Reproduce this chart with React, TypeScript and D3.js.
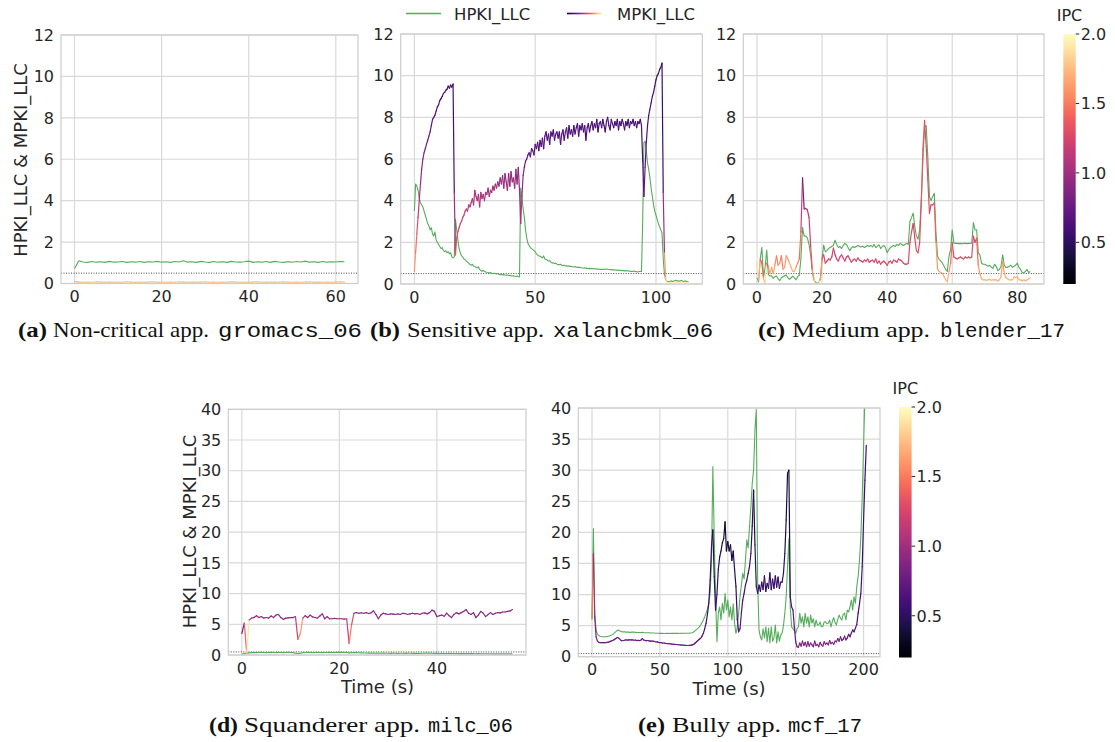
import React from 'react';
import * as d3 from 'd3';

// ---------------- DATA ----------------
const TOP_YTICKS = [0, 2, 4, 6, 8, 10, 12];
const BOTTOM_YTICKS = [0, 5, 10, 15, 20, 25, 30, 35, 40];
const A_XTICKS = [0, 20, 40, 60];
const B_XTICKS = [0, 50, 100];
const C_XTICKS = [0, 20, 40, 60, 80];
const D_XTICKS = [0, 20, 40];
const E_XTICKS = [0, 50, 100, 150, 200];
const IPC_TICKS = [0.5, 1.0, 1.5, 2.0];
const IPC_RANGE = [0.2, 2.0];

const SERIES_NAMES = ['HPKI_LLC', 'MPKI_LLC'];
const Y_LABEL = 'HPKI_LLC & MPKI_LLC';
const X_LABEL = 'Time (s)';

// (a) gromacs_06, 1 s sampling
const A_HPKI = [
  0.72, 1.1, 1.04, 1.02, 1.06, 1.03, 1.05, 1.02, 1.07, 1.03,
  1.04, 1.06, 1.02, 1.05, 1.03, 1.06, 1.02, 1.05, 1.04, 1.07,
  1.03, 1.05, 1.02, 1.06, 1.04, 1.1, 1.03, 1.05, 1.02, 1.07,
  1.04, 1.02, 1.06, 1.03, 1.05, 1.02, 1.07, 1.04, 1.03, 1.05,
  1.08, 1.02, 1.05, 1.03, 1.06, 1.02, 1.07, 1.04, 1.02, 1.05,
  1.03, 1.06, 1.04, 1.08, 1.03, 1.05, 1.02, 1.06, 1.03, 1.05,
  1.04, 1.06, 1.05,
];
const A_MPKI = [
  0.09, 0.07, 0.06, 0.07, 0.06, 0.08, 0.07, 0.06, 0.07, 0.06,
  0.07, 0.06, 0.08, 0.07, 0.06, 0.07, 0.06, 0.07, 0.08, 0.06,
  0.07, 0.06, 0.07, 0.06, 0.08, 0.07, 0.06, 0.07, 0.06, 0.07,
  0.08, 0.06, 0.07, 0.06, 0.07, 0.06, 0.08, 0.07, 0.06, 0.07,
  0.06, 0.07, 0.08, 0.06, 0.07, 0.06, 0.07, 0.06, 0.08, 0.07,
  0.06, 0.07, 0.06, 0.07, 0.08, 0.06, 0.07, 0.06, 0.07, 0.06,
  0.07, 0.08, 0.07,
];
const A_IPC = [
  1.7, 1.74, 1.76, 1.75, 1.77, 1.74, 1.76, 1.75, 1.73, 1.76,
  1.75, 1.74, 1.76, 1.75, 1.73, 1.76, 1.74, 1.75, 1.77, 1.74,
  1.76, 1.75, 1.74, 1.76, 1.73, 1.75, 1.76, 1.74, 1.75, 1.77,
  1.74, 1.76, 1.75, 1.73, 1.76, 1.75, 1.74, 1.76, 1.75, 1.74,
  1.76, 1.75, 1.73, 1.76, 1.74, 1.75, 1.77, 1.74, 1.76, 1.75,
  1.74, 1.76, 1.75, 1.73, 1.76, 1.75, 1.74, 1.76, 1.75, 1.74,
  1.76, 1.75, 1.75,
];

// (b) xalancbmk_06, 0.5 s sampling
const B_HPKI = [
  3.5, 4.8, 4.7, 4.5, 4.1, 3.9, 3.8, 3.7, 3.5, 3.3,
  3.1, 2.9, 2.8, 2.6, 2.7, 2.4, 2.3, 2.5, 2.1, 2.0,
  1.9, 1.8, 1.7, 1.75, 1.6, 1.55, 1.6, 1.5, 1.55, 1.45,
  1.5, 1.3, 1.25, 1.3, 3.1, 2.6, 2.1, 1.7, 1.5, 1.35,
  1.3, 1.2, 1.17, 1.1, 1.05, 1.0, 0.93, 0.9, 0.95, 0.85,
  0.85, 0.8, 0.78, 0.82, 0.7, 0.65, 0.61, 0.65, 0.6, 0.58,
  0.56, 0.55, 0.53, 0.55, 0.52, 0.5, 0.52, 0.5, 0.48, 0.5,
  0.47, 0.45, 0.46, 0.44, 0.45, 0.43, 0.42, 0.44, 0.4, 0.42,
  0.4, 0.38, 0.4, 0.37, 0.36, 0.38, 0.35, 0.34, 4.6, 4.2,
  3.6, 3.2, 2.6, 2.2, 1.95, 1.85, 1.75, 1.7, 1.65, 1.6,
  1.55, 1.45, 1.4, 1.35, 1.33, 1.3, 1.25, 1.35, 1.2, 1.17,
  1.15, 1.1, 1.12, 1.05, 1.0, 1.02, 0.98, 1.0, 0.95, 0.93,
  0.93, 0.95, 0.9, 0.88, 0.9, 0.86, 0.88, 0.85, 0.87, 0.84,
  0.85, 0.83, 0.82, 0.84, 0.8, 0.82, 0.79, 0.8, 0.78, 0.77,
  0.77, 0.78, 0.75, 0.76, 0.74, 0.75, 0.73, 0.75, 0.72, 0.74,
  0.72, 0.73, 0.7, 0.72, 0.7, 0.71, 0.69, 0.72, 0.7, 0.71,
  0.72, 0.7, 0.68, 0.7, 0.67, 0.69, 0.66, 0.68, 0.65, 0.67,
  0.65, 0.66, 0.64, 0.65, 0.63, 0.65, 0.62, 0.64, 0.62, 0.6,
  0.61, 0.6, 0.62, 0.59, 0.6, 0.58, 0.6, 0.6, 0.6, 3.0,
  6.8, 6.85, 6.4, 5.8, 5.5, 5.1, 4.6, 4.2, 3.8, 3.5,
  3.3, 3.1, 2.9, 2.75, 2.6, 2.45, 1.2, 0.5, 0.2, 0.12,
  0.12, 0.1, 0.13, 0.15, 0.12, 0.14, 0.18, 0.15, 0.16, 0.13,
  0.15, 0.17, 0.14, 0.12, 0.15, 0.13, 0.1, 0.1,
];
const B_MPKI = [
  0.6, 1.5, 2.4, 3.2, 4.0, 4.8, 5.5, 6.0, 6.3, 6.5,
  6.7, 6.9, 7.1, 7.3, 7.6, 7.9, 8.0, 8.1, 8.3, 8.5,
  8.6, 8.8, 8.9, 9.0, 9.15, 9.2, 9.3, 9.35, 9.5, 9.4,
  9.55, 9.45, 9.6, 4.4, 1.4, 2.2, 2.5, 2.7, 2.9, 3.0,
  3.2, 3.3, 3.5, 3.6, 3.5, 3.8, 3.7, 3.9, 4.1, 3.8,
  4.5, 4.2, 4.0, 4.3, 3.7, 4.4, 4.1, 4.3, 4.0, 4.4,
  4.3, 4.6, 4.2, 4.5, 4.4, 4.7, 4.5, 4.8, 4.6, 4.9,
  4.7, 5.1, 4.8, 5.2, 4.6, 5.3, 4.9, 4.5, 5.3, 4.7,
  5.4, 4.9, 5.1, 4.6, 5.5, 4.8, 5.6, 4.5, 2.9, 4.2,
  5.2, 5.6, 5.9, 6.0, 6.2, 6.3, 6.1, 6.5, 6.4, 6.2,
  6.7, 6.5, 6.8, 6.4, 6.9, 6.6, 7.0, 6.5, 7.1, 7.3,
  6.9, 7.2, 6.7, 7.3, 7.1, 7.4, 6.9, 7.2, 7.3, 7.0,
  7.3, 6.7, 7.2, 7.4, 6.9, 7.3, 7.5, 7.0, 7.6, 7.2,
  7.4, 7.1, 7.6, 7.2, 7.5, 7.7, 7.1, 7.6, 7.4, 7.7,
  7.3, 7.6, 6.9, 7.5, 7.7, 7.3, 7.6, 7.8, 7.4, 7.7,
  7.5, 7.9, 7.3, 7.7, 7.8, 7.5, 7.9, 7.6, 7.3, 7.8,
  8.0, 7.6, 7.4, 7.9, 7.7, 7.5, 7.8, 7.6, 7.9, 7.4,
  7.8, 7.6, 7.9, 7.7, 7.4, 7.8, 7.6, 7.9, 7.5, 7.8,
  7.7, 7.9, 7.6, 7.8, 7.5, 7.8, 7.7, 7.9, 7.6, 5.9,
  4.2, 5.6, 6.8, 7.6, 8.1, 8.4, 8.7, 9.0, 9.2, 9.5,
  9.8, 10.0, 10.1, 10.3, 10.4, 10.6, 4.4, 1.5, 0.3, 0.05,
  0.05, 0.06, 0.05, 0.04, 0.05, 0.06, 0.05, 0.05, 0.04, 0.05,
  0.05, 0.06, 0.05, 0.05, 0.04, 0.05, 0.05, 0.05,
];
const B_IPC = [
  1.6, 1.45, 1.3, 1.15, 1.05, 0.95, 0.9, 0.85, 0.8, 0.8,
  0.78, 0.76, 0.74, 0.72, 0.7, 0.68, 0.67, 0.66, 0.65, 0.64,
  0.63, 0.62, 0.62, 0.61, 0.6, 0.6, 0.6, 0.6, 0.6, 0.6,
  0.6, 0.6, 0.6, 1.0, 1.35, 1.3, 1.25, 1.22, 1.2, 1.18,
  1.2, 1.18, 1.17, 1.15, 1.15, 1.1, 1.12, 1.1, 1.08, 1.1,
  1.05, 1.07, 1.1, 1.06, 1.12, 1.05, 1.07, 1.05, 1.08, 1.04,
  1.05, 1.02, 1.05, 1.03, 1.03, 1.0, 1.02, 1.0, 1.0, 0.98,
  1.0, 0.97, 0.99, 0.96, 1.0, 0.95, 0.98, 1.0, 0.95, 0.98,
  0.94, 0.97, 0.96, 0.98, 0.93, 0.97, 0.92, 0.98, 1.1, 0.95,
  0.85, 0.78, 0.75, 0.73, 0.72, 0.71, 0.72, 0.7, 0.7, 0.71,
  0.68, 0.7, 0.67, 0.69, 0.66, 0.68, 0.66, 0.69, 0.66, 0.65,
  0.67, 0.66, 0.68, 0.65, 0.66, 0.64, 0.67, 0.66, 0.65, 0.67,
  0.65, 0.68, 0.66, 0.64, 0.67, 0.65, 0.64, 0.66, 0.63, 0.65,
  0.64, 0.66, 0.63, 0.65, 0.64, 0.62, 0.65, 0.63, 0.64, 0.62,
  0.64, 0.62, 0.66, 0.63, 0.62, 0.64, 0.63, 0.61, 0.63, 0.62,
  0.63, 0.61, 0.64, 0.62, 0.61, 0.63, 0.61, 0.62, 0.64, 0.62,
  0.6, 0.62, 0.63, 0.61, 0.62, 0.63, 0.61, 0.62, 0.6, 0.63,
  0.61, 0.62, 0.6, 0.62, 0.63, 0.61, 0.62, 0.6, 0.62, 0.61,
  0.62, 0.6, 0.62, 0.61, 0.62, 0.61, 0.62, 0.6, 0.62, 0.7,
  0.75, 0.7, 0.65, 0.62, 0.6, 0.6, 0.58, 0.58, 0.57, 0.57,
  0.56, 0.56, 0.55, 0.55, 0.55, 0.55, 1.0, 1.6, 1.85, 1.95,
  1.95, 1.95, 1.95, 1.95, 1.95, 1.95, 1.95, 1.95, 1.95, 1.95,
  1.95, 1.95, 1.95, 1.95, 1.95, 1.95, 1.95, 1.95,
];

// (c) blender_17, 0.5 s sampling
const C_HPKI = [
  0.3, 0.1, 1.2, 1.76, 0.3, 0.8, 1.63, 0.45, 0.38, 0.4,
  0.27, 0.35, 0.38, 0.25, 0.16, 0.3, 0.35, 0.4, 0.43, 0.3,
  0.22, 0.3, 0.38, 0.3, 0.2, 0.35, 0.42, 1.2, 2.72, 2.3,
  2.3, 2.2, 1.9, 1.4, 0.6, 0.2, 0.08, 0.03, 0.05, 0.3,
  1.2, 1.87, 1.55, 1.6, 1.7, 1.75, 1.8, 1.85, 2.1, 1.9,
  1.75, 1.8, 1.7, 1.85, 1.95, 1.9, 1.75, 1.6, 1.72, 1.8,
  1.75, 1.8, 1.85, 1.8, 1.78, 1.82, 1.75, 1.8, 1.85, 1.8,
  1.85, 1.78, 1.9, 1.75, 1.82, 1.88, 1.7, 1.8, 1.85, 1.75,
  1.5, 1.65, 1.75, 1.8, 1.85, 1.8, 1.9, 1.85, 1.95, 1.9,
  1.85, 1.9, 1.95, 1.9, 3.0, 3.2, 3.4, 2.75, 2.3, 2.15,
  2.6, 4.0, 6.0, 7.55, 7.6, 6.1, 4.2, 4.0, 4.2, 4.36,
  2.45, 1.33, 1.17, 1.1, 1.0, 0.85, 0.69, 0.6, 1.33, 1.65,
  2.6, 1.96, 1.95, 1.95, 1.94, 1.95, 1.93, 1.95, 1.95, 1.94,
  1.95, 1.95, 1.96, 2.95, 2.6, 2.6, 1.5, 1.4, 1.0, 0.95,
  0.95, 0.9, 0.85, 0.9, 0.8, 0.75, 0.95, 0.85, 0.65, 0.7,
  0.85, 1.4, 0.9, 0.8, 0.8, 0.85, 0.9, 0.8, 0.85, 0.9,
  1.0, 0.8, 0.7, 0.55, 0.53, 0.6, 0.7, 0.55, 0.6,
];
const C_MPKI = [
  1.0, 0.2, 1.2, 1.0, 0.3, 0.0, 1.0, 0.8, 0.5, 0.8,
  0.5, 0.9, 1.35, 0.9, 1.0, 1.35, 0.7, 0.8, 1.35, 1.2,
  1.0, 0.8, 0.6, 0.6, 0.8, 1.0, 1.2, 2.5, 5.1, 3.6,
  3.63, 3.55, 3.2, 1.8, 0.7, 0.2, 0.0, 0.0, 0.0, 0.2,
  1.2, 1.4, 1.0, 1.1, 1.2, 1.15, 1.3, 1.72, 1.4, 1.2,
  1.1, 1.3, 1.4, 1.25, 1.1, 1.3, 1.35, 1.2, 1.05, 1.15,
  1.2, 1.1, 1.25, 1.15, 1.1, 1.05, 1.15, 1.1, 1.2, 1.05,
  1.1, 1.15, 1.05, 1.2, 1.0, 1.1, 0.95, 1.05, 1.1, 1.0,
  0.9, 1.05, 1.1, 1.0, 1.15, 1.1, 1.05, 1.2, 1.15, 1.1,
  1.0, 0.95, 0.95, 1.0, 2.0, 2.5, 2.9, 2.2, 1.6, 1.5,
  2.0, 4.0, 6.5, 7.85, 6.6, 5.0, 3.4, 3.8, 3.8, 3.9,
  2.0, 0.7, 0.6, 0.55, 0.5, 0.35, 0.2, 0.1, 0.6, 1.0,
  2.0, 1.3, 1.25, 1.2, 1.25, 1.3, 1.25, 1.2, 1.3, 1.25,
  1.3, 1.25, 1.3, 2.3, 2.0, 2.2, 0.9, 0.5, 0.25, 0.2,
  0.2, 0.18, 0.2, 0.22, 0.18, 0.2, 0.2, 0.2, 0.15, 0.2,
  0.35, 1.1, 0.5, 0.3, 0.25, 0.2, 0.2, 0.2, 0.35, 0.3,
  0.35, 0.2, 0.2, 0.15, 0.2, 0.15, 0.2, 0.25, 0.3,
];
const C_IPC = [
  1.9, 1.7, 1.4, 1.4, 1.7, 1.9, 1.3, 1.6, 1.7, 1.6,
  1.65, 1.55, 1.5, 1.6, 1.55, 1.5, 1.7, 1.6, 1.6, 1.65,
  1.7, 1.7, 1.75, 1.7, 1.6, 1.55, 1.45, 1.2, 0.8, 1.05,
  1.05, 1.1, 1.2, 1.35, 1.6, 1.8, 1.9, 1.9, 1.9, 1.6,
  1.3, 1.25, 1.25, 1.25, 1.22, 1.25, 1.2, 1.2, 1.22, 1.25,
  1.25, 1.22, 1.2, 1.25, 1.25, 1.22, 1.2, 1.25, 1.25, 1.22,
  1.25, 1.25, 1.22, 1.25, 1.25, 1.27, 1.25, 1.25, 1.22, 1.25,
  1.25, 1.25, 1.27, 1.25, 1.28, 1.25, 1.28, 1.25, 1.25, 1.27,
  1.3, 1.27, 1.25, 1.27, 1.25, 1.25, 1.27, 1.25, 1.25, 1.27,
  1.25, 1.25, 1.25, 1.3, 1.3, 1.25, 1.25, 1.3, 1.3, 1.3,
  1.3, 1.35, 1.35, 1.3, 1.3, 1.3, 1.25, 1.25, 1.25, 1.4,
  1.6, 1.65, 1.65, 1.65, 1.7, 1.7, 1.75, 1.7, 1.6, 1.45,
  1.3, 1.3, 1.3, 1.3, 1.3, 1.3, 1.3, 1.3, 1.3, 1.3,
  1.3, 1.3, 1.3, 1.25, 1.3, 1.4, 1.6, 1.65, 1.7, 1.7,
  1.7, 1.72, 1.7, 1.7, 1.72, 1.7, 1.7, 1.72, 1.7, 1.7,
  1.65, 1.6, 1.68, 1.7, 1.72, 1.7, 1.72, 1.7, 1.7, 1.72,
  1.7, 1.72, 1.7, 1.72, 1.7, 1.72, 1.7, 1.7, 1.7,
];

// (d) milc_06, 0.5 s sampling
const D_HPKI = [
  0.1, 0.25, 0.3, 0.35, 0.38, 0.4, 0.38, 0.4, 0.42, 0.4,
  0.38, 0.4, 0.42, 0.4, 0.38, 0.4, 0.41, 0.39, 0.4, 0.42,
  0.4, 0.38, 0.3, 0.25, 0.3, 0.38, 0.4, 0.42, 0.4, 0.38,
  0.4, 0.42, 0.4, 0.38, 0.4, 0.41, 0.42, 0.4, 0.41, 0.43,
  0.42, 0.43, 0.4, 0.42, 0.35, 0.38, 0.4, 0.38, 0.36, 0.35,
  0.33, 0.32, 0.3, 0.31, 0.3, 0.28, 0.3, 0.29, 0.3, 0.28,
  0.28, 0.27, 0.3, 0.28, 0.27, 0.29, 0.28, 0.27, 0.3, 0.28,
  0.27, 0.28, 0.27, 0.26, 0.28, 0.3, 0.32, 0.3, 0.28, 0.27,
  0.26, 0.25, 0.27, 0.25, 0.24, 0.26, 0.25, 0.24, 0.25, 0.23,
  0.24, 0.22, 0.23, 0.22, 0.24, 0.22, 0.21, 0.22, 0.2, 0.21,
  0.2, 0.21, 0.2, 0.19, 0.2, 0.19, 0.2, 0.19, 0.18, 0.19,
  0.18, 0.18,
];
const D_MPKI = [
  3.5, 5.2, 0.3, 5.7, 6.0, 6.1, 6.4, 6.1, 6.25, 6.0,
  6.1, 6.0, 6.35, 6.1, 6.5, 6.6, 6.1, 5.8, 6.0, 6.05,
  6.1, 6.1, 6.25, 2.55, 3.5, 6.0, 6.4, 6.1, 6.5, 6.2,
  6.1, 6.0, 6.35, 6.7, 5.9, 6.25, 5.9, 5.9, 5.95, 5.9,
  5.9, 5.9, 5.85, 5.9, 1.9, 4.9, 6.8, 6.9, 6.8, 6.85,
  6.8, 6.9, 6.75, 6.85, 7.2, 6.6, 5.9, 6.5, 6.8, 6.7,
  6.6, 6.7, 6.65, 6.6, 6.7, 6.6, 6.8, 6.75, 6.6, 6.7,
  6.8, 6.7, 6.75, 6.6, 6.8, 6.85, 6.7, 6.9, 7.3, 7.1,
  6.25, 6.4, 6.5, 6.3, 6.8, 6.4, 6.1, 6.6, 6.9, 6.7,
  6.9, 7.1, 7.4, 6.8, 6.6, 6.9, 6.1, 6.5, 7.1, 6.8,
  6.25, 6.6, 6.9, 6.6, 6.8, 6.9, 6.85, 7.0, 7.0, 7.1,
  7.17, 7.4,
];
const D_IPC = [
  0.85, 1.4, 1.9, 1.0, 0.95, 0.93, 0.95, 0.94, 0.95, 0.93,
  0.95, 0.94, 0.93, 0.95, 0.94, 0.93, 0.95, 0.96, 0.95, 0.94,
  0.95, 0.95, 1.2, 1.5, 1.6, 1.05, 0.95, 0.94, 0.93, 0.95,
  0.95, 0.96, 0.94, 0.93, 0.96, 0.95, 0.96, 0.96, 0.95, 0.96,
  0.96, 0.96, 0.97, 1.2, 1.5, 1.3, 0.95, 0.92, 0.92, 0.92,
  0.92, 0.91, 0.92, 0.92, 0.9, 0.92, 0.95, 0.93, 0.92, 0.92,
  0.92, 0.92, 0.92, 0.93, 0.92, 0.92, 0.91, 0.92, 0.93, 0.92,
  0.92, 0.92, 0.92, 0.93, 0.92, 0.92, 0.92, 0.91, 0.9, 0.91,
  0.94, 0.93, 0.92, 0.93, 0.92, 0.93, 0.95, 0.93, 0.92, 0.92,
  0.92, 0.91, 0.9, 0.92, 0.93, 0.92, 0.95, 0.93, 0.91, 0.92,
  0.94, 0.93, 0.92, 0.93, 0.92, 0.92, 0.92, 0.91, 0.91, 0.91,
  0.9, 0.9,
];

// (e) mcf_17, 1 s sampling
const E_HPKI = [
  6.0, 20.6, 7.0, 4.3, 3.6, 3.4, 3.3, 3.25, 3.2, 3.2,
  3.2, 3.25, 3.3, 3.35, 3.45, 3.55, 3.7, 3.9, 4.1, 4.3,
  4.2, 4.1, 4.0, 4.0, 4.0, 3.95, 3.95, 3.95, 3.9, 3.95,
  3.97, 3.95, 3.9, 3.92, 3.9, 3.88, 3.9, 3.92, 3.88, 3.86,
  3.86, 3.85, 3.85, 3.83, 3.82, 3.8, 3.8, 3.78, 3.78, 3.77,
  3.75, 3.75, 3.75, 3.74, 3.74, 3.75, 3.75, 3.74, 3.75, 3.75,
  3.75, 3.75, 3.76, 3.75, 3.76, 3.76, 3.75, 3.76, 3.76, 3.76,
  3.76, 3.78, 3.8, 3.82, 3.86, 4.0, 4.2, 4.4, 4.56, 4.8,
  5.1, 5.5, 5.9, 6.4, 7.0, 7.7, 8.6, 10.2, 15.5, 30.6,
  19.3, 9.65, 2.4, 7.0, 8.0, 5.9, 8.6, 7.0, 10.2, 7.5,
  9.1, 6.4, 8.0, 5.9, 8.5, 5.4, 3.75, 4.8, 7.0, 9.65,
  11.5, 13.4, 12.5, 15.5, 18.8, 17.5, 21.0, 24.0, 27.9, 30.0,
  36.5, 39.8, 12.0, 4.3, 3.2, 2.7, 4.5, 3.0, 4.8, 2.4,
  4.6, 2.2, 4.8, 2.5, 3.0, 5.1, 2.2, 4.0, 2.5, 3.5,
  3.8, 5.0, 7.0, 9.65, 14.5, 19.0, 8.0, 4.8, 4.5, 4.2,
  3.75, 4.5, 4.8, 7.0, 5.4, 6.4, 4.8, 7.0, 5.4, 6.4,
  4.8, 6.7, 5.4, 6.1, 4.8, 5.9, 5.1, 5.1, 5.6, 4.8,
  4.9, 5.6, 5.6, 5.3, 5.4, 5.9, 4.8, 5.7, 6.3, 5.5,
  5.1, 6.0, 6.7, 6.2, 5.9, 6.8, 7.0, 5.9, 7.5, 7.2,
  8.0, 9.1, 7.5, 9.65, 8.6, 11.3, 12.9, 15.5, 19.3, 25.7,
  33.8, 42.0, 48.0,
];
const E_MPKI = [
  6.2, 16.6, 6.4, 3.2, 2.5, 2.3, 2.25, 2.25, 2.25, 2.25,
  2.25, 2.3, 2.35, 2.4, 2.5, 2.6, 2.7, 2.85, 3.0, 3.1,
  2.9, 2.7, 2.56, 2.6, 2.65, 2.7, 2.68, 2.7, 2.72, 2.7,
  2.7, 2.65, 2.68, 2.6, 2.62, 2.6, 2.65, 2.9, 2.7, 2.6,
  2.56, 2.6, 2.55, 2.5, 2.52, 2.5, 2.45, 2.4, 2.38, 2.3,
  2.25, 2.25, 2.2, 2.2, 2.15, 2.12, 2.1, 2.08, 2.05, 2.02,
  2.0, 1.98, 1.96, 1.95, 1.92, 1.9, 1.88, 1.86, 1.84, 1.82,
  1.8, 1.8, 1.82, 1.85, 1.9, 2.0, 2.2, 2.4, 2.6, 2.8,
  2.96, 3.3, 3.76, 4.5, 5.4, 6.8, 8.6, 12.3, 17.7, 20.4,
  12.9, 7.5, 10.0, 14.0, 16.0, 17.0, 18.3, 19.0, 21.7, 17.0,
  18.5, 17.0, 18.0, 15.5, 17.0, 14.0, 11.3, 6.0, 4.0, 4.5,
  7.0, 9.1, 10.2, 11.5, 12.3, 13.4, 14.5, 16.6, 21.0, 26.8,
  18.0, 11.3, 10.2, 11.5, 10.5, 12.0, 10.8, 13.0, 10.5, 11.8,
  11.0, 13.5, 10.8, 12.5, 11.0, 13.0, 11.2, 12.8, 11.0, 12.0,
  12.0, 13.4, 16.6, 22.0, 29.5, 30.0, 9.65, 8.0, 7.5, 4.8,
  2.4, 1.6, 1.5, 2.2, 1.7, 2.5, 1.8, 2.3, 1.6, 2.4,
  1.7, 2.2, 1.9, 1.6, 2.5, 1.8, 2.0, 1.6, 2.3, 1.9,
  1.7, 2.4, 2.0, 2.2, 1.9, 2.6, 2.1, 2.3, 2.0, 2.5,
  2.4, 2.9, 2.5, 3.2, 2.6, 2.8, 3.3, 2.7, 3.0, 3.6,
  3.2, 3.8, 4.3, 4.0, 4.6, 5.2, 7.0, 8.5, 10.2, 14.5,
  22.0, 28.4, 34.0,
];
const E_IPC = [
  1.5, 1.0, 0.85, 0.8, 0.78, 0.78, 0.78, 0.78, 0.78, 0.78,
  0.78, 0.78, 0.77, 0.77, 0.77, 0.76, 0.76, 0.76, 0.76, 0.76,
  0.76, 0.76, 0.76, 0.76, 0.76, 0.76, 0.76, 0.76, 0.76, 0.76,
  0.76, 0.76, 0.76, 0.76, 0.76, 0.76, 0.76, 0.76, 0.76, 0.76,
  0.76, 0.76, 0.76, 0.76, 0.76, 0.76, 0.76, 0.76, 0.76, 0.76,
  0.76, 0.76, 0.76, 0.76, 0.76, 0.76, 0.76, 0.76, 0.76, 0.76,
  0.76, 0.76, 0.76, 0.76, 0.76, 0.76, 0.76, 0.76, 0.76, 0.76,
  0.76, 0.76, 0.75, 0.75, 0.74, 0.73, 0.72, 0.7, 0.68, 0.66,
  0.65, 0.63, 0.62, 0.6, 0.58, 0.56, 0.55, 0.52, 0.5, 0.45,
  0.5, 0.55, 0.5, 0.45, 0.42, 0.4, 0.4, 0.38, 0.38, 0.4,
  0.38, 0.4, 0.4, 0.42, 0.44, 0.46, 0.5, 0.6, 0.72, 0.68,
  0.65, 0.62, 0.6, 0.58, 0.56, 0.54, 0.52, 0.5, 0.46, 0.42,
  0.5, 0.55, 0.55, 0.52, 0.55, 0.53, 0.55, 0.52, 0.55, 0.53,
  0.55, 0.52, 0.55, 0.53, 0.55, 0.52, 0.54, 0.53, 0.55, 0.52,
  0.52, 0.48, 0.42, 0.38, 0.36, 0.4, 0.6, 0.65, 0.7, 0.75,
  0.82, 0.85, 0.88, 0.85, 0.88, 0.86, 0.88, 0.85, 0.87, 0.86,
  0.86, 0.87, 0.85, 0.88, 0.86, 0.87, 0.85, 0.88, 0.86, 0.87,
  0.85, 0.86, 0.87, 0.85, 0.86, 0.84, 0.86, 0.85, 0.84, 0.83,
  0.82, 0.8, 0.8, 0.78, 0.78, 0.76, 0.75, 0.74, 0.72, 0.7,
  0.7, 0.68, 0.68, 0.66, 0.65, 0.62, 0.6, 0.6, 0.58, 0.56,
  0.55, 0.55, 0.55,
];

// ---------------- STYLE / LAYOUT ----------------
const W = 1115;
const H = 742;
const SANS = "'DejaVu Sans', sans-serif";
const SERIF = "'Liberation Serif', 'Times New Roman', serif";
const MONO = "'Liberation Mono', monospace";
const GREEN = '#55ad5b';
const GRID = '#d9d9d9';
const FRAME = '#cccccc';
const TEXT = '#262626';
const TICK_FS = 16;
const LABEL_FS = 18;

const ipcColor = (v: number) =>
  d3.interpolateMagma(Math.max(0, Math.min(1, (v - IPC_RANGE[0]) / (IPC_RANGE[1] - IPC_RANGE[0]))));

type Box = { l: number; r: number; t: number; b: number };
type PanelCfg = {
  key: string;
  box: Box;
  step: number;
  xDomain: [number, number];
  yMax: number;
  xTicks: number[];
  yTicks: number[];
  hpki: number[];
  mpki: number[];
  ipc: number[];
};

const PANELS: PanelCfg[] = [
  { key: 'a', box: { l: 61, r: 358, t: 35, b: 283.5 }, step: 1, xDomain: [-3.1, 65.1], yMax: 12, xTicks: A_XTICKS, yTicks: TOP_YTICKS, hpki: A_HPKI, mpki: A_MPKI, ipc: A_IPC },
  { key: 'b', box: { l: 400.7, r: 702.3, t: 34, b: 284 }, step: 0.5, xDomain: [-5.675, 119.175], yMax: 12, xTicks: B_XTICKS, yTicks: TOP_YTICKS, hpki: B_HPKI, mpki: B_MPKI, ipc: B_IPC },
  { key: 'c', box: { l: 743.3, r: 1044, t: 34, b: 284 }, step: 0.5, xDomain: [-4.2, 88.2], yMax: 12, xTicks: C_XTICKS, yTicks: TOP_YTICKS, hpki: C_HPKI, mpki: C_MPKI, ipc: C_IPC },
  { key: 'd', box: { l: 228.3, r: 526, t: 409.3, b: 655 }, step: 0.5, xDomain: [-2.775, 58.275], yMax: 40, xTicks: D_XTICKS, yTicks: BOTTOM_YTICKS, hpki: D_HPKI, mpki: D_MPKI, ipc: D_IPC },
  { key: 'e', box: { l: 578.3, r: 880, t: 408, b: 656.7 }, step: 1, xDomain: [-10.1, 212.1], yMax: 40, xTicks: E_XTICKS, yTicks: BOTTOM_YTICKS, hpki: E_HPKI, mpki: E_MPKI, ipc: E_IPC },
];

const COLORBARS = [
  { key: 'cb1', x: 1063.3, w: 12.4, t: 34, b: 284, labelY: 21 },
  { key: 'cb2', x: 899, w: 12.6, t: 407, b: 657.5, labelY: 394 },
];

type CapPart = { text: string; x: number; len: number; kind: 'bold' | 'serif' | 'mono' };
const CAPTIONS: { y: number; parts: CapPart[] }[] = [
  { y: 337, parts: [
    { text: '(a)', x: 18, len: 29, kind: 'bold' },
    { text: 'Non-critical app.', x: 53, len: 156, kind: 'serif' },
    { text: 'gromacs_06', x: 218, len: 144, kind: 'mono' },
  ] },
  { y: 337, parts: [
    { text: '(b)', x: 370, len: 30, kind: 'bold' },
    { text: 'Sensitive app.', x: 407, len: 137, kind: 'serif' },
    { text: 'xalancbmk_06', x: 553, len: 160, kind: 'mono' },
  ] },
  { y: 337, parts: [
    { text: '(c)', x: 758, len: 27, kind: 'bold' },
    { text: 'Medium app.', x: 792, len: 138, kind: 'serif' },
    { text: 'blender_17', x: 940, len: 125, kind: 'mono' },
  ] },
  { y: 731.5, parts: [
    { text: '(d)', x: 209, len: 29, kind: 'bold' },
    { text: 'Squanderer app.', x: 244, len: 176, kind: 'serif' },
    { text: 'milc_06', x: 428, len: 85, kind: 'mono' },
  ] },
  { y: 731.5, parts: [
    { text: '(e)', x: 638, len: 27, kind: 'bold' },
    { text: 'Bully app.', x: 672, len: 109, kind: 'serif' },
    { text: 'mcf_17', x: 788, len: 74, kind: 'mono' },
  ] },
];

function PanelView({ p }: { p: PanelCfg }) {
  const x = d3.scaleLinear().domain(p.xDomain).range([p.box.l, p.box.r]);
  const y = d3.scaleLinear().domain([0, p.yMax]).range([p.box.b, p.box.t]);
  const n = Math.min(p.hpki.length, p.mpki.length, p.ipc.length);
  const ts = d3.range(n).map((i) => i * p.step);
  const line = d3
    .line<number>()
    .x((_, i) => x(ts[i]))
    .y((d) => y(d));
  const clipId = `clip-${p.key}`;
  const segs = d3.range(n - 1).map((i) => ({
    x1: x(ts[i]), y1: y(p.mpki[i]), x2: x(ts[i + 1]), y2: y(p.mpki[i + 1]), c: ipcColor(p.ipc[i]),
  }));
  const { l, r, t, b } = p.box;
  return (
    <g>
      <defs>
        <clipPath id={clipId}>
          <rect x={l} y={t} width={r - l} height={b - t} />
        </clipPath>
      </defs>
      {p.yTicks.map((v) => (
        <line key={`gy${v}`} x1={l} x2={r} y1={y(v)} y2={y(v)} stroke={GRID} strokeWidth={1.2} />
      ))}
      {p.xTicks.map((v) => (
        <line key={`gx${v}`} x1={x(v)} x2={x(v)} y1={t} y2={b} stroke={GRID} strokeWidth={1.2} />
      ))}
      <line x1={l} x2={r} y1={y(0.5)} y2={y(0.5)} stroke="#444" strokeWidth={1} strokeDasharray="1,1.5" />
      <g clipPath={`url(#${clipId})`}>
        <path d={line(p.hpki.slice(0, n)) || ''} fill="none" stroke={GREEN} strokeWidth={1.1} strokeLinejoin="round" />
        {segs.map((s, i) => (
          <line key={i} x1={s.x1} y1={s.y1} x2={s.x2} y2={s.y2} stroke={s.c} strokeWidth={1.2} strokeLinecap="round" />
        ))}
      </g>
      <rect x={l} y={t} width={r - l} height={b - t} fill="none" stroke={FRAME} strokeWidth={1.2} />
      {p.yTicks.map((v) => (
        <text key={`ty${v}`} x={l - 7} y={y(v)} dy="0.36em" textAnchor="end" fontFamily={SANS} fontSize={TICK_FS} fill={TEXT}>
          {v}
        </text>
      ))}
      {p.xTicks.map((v) => (
        <text key={`tx${v}`} x={x(v)} y={b + 18.5} textAnchor="middle" fontFamily={SANS} fontSize={TICK_FS} fill={TEXT}>
          {v}
        </text>
      ))}
    </g>
  );
}

function ColorbarView({ cb }: { cb: (typeof COLORBARS)[number] }) {
  const s = d3.scaleLinear().domain(IPC_RANGE).range([cb.b, cb.t]);
  const gid = `grad-${cb.key}`;
  const stops = d3.range(0, 1.0001, 0.05);
  return (
    <g>
      <defs>
        <linearGradient id={gid} x1="0" y1="1" x2="0" y2="0">
          {stops.map((o) => (
            <stop key={o} offset={o} stopColor={d3.interpolateMagma(o)} />
          ))}
        </linearGradient>
      </defs>
      <rect x={cb.x} y={cb.t} width={cb.w} height={cb.b - cb.t} fill={`url(#${gid})`} />
      {IPC_TICKS.map((v) => (
        <g key={v}>
          <line x1={cb.x + cb.w} x2={cb.x + cb.w + 3.5} y1={s(v)} y2={s(v)} stroke={TEXT} strokeWidth={1} />
          <text x={cb.x + cb.w + 5} y={s(v)} dy="0.36em" fontFamily={SANS} fontSize={TICK_FS} fill={TEXT}>
            {v.toFixed(1)}
          </text>
        </g>
      ))}
      <text x={cb.x + cb.w / 2} y={cb.labelY} textAnchor="middle" fontFamily={SANS} fontSize={TICK_FS} fill={TEXT}>
        IPC
      </text>
    </g>
  );
}

function Legend() {
  const stops = d3.range(0, 1.0001, 0.1);
  return (
    <g>
      <defs>
        <linearGradient id="legend-grad" x1="0" y1="0" x2="1" y2="0">
          {stops.map((o) => (
            <stop key={o} offset={o} stopColor={d3.interpolateMagma(0.05 + o * 0.93)} />
          ))}
        </linearGradient>
      </defs>
      <line x1={406} x2={441} y1={13.5} y2={13.5} stroke={GREEN} strokeWidth={1.6} />
      <text x={454} y={19.5} fontFamily={SANS} fontSize={16.5} fill={TEXT}>{SERIES_NAMES[0]}</text>
      <rect x={567} y={12.7} width={35} height={1.6} fill="url(#legend-grad)" />
      <text x={617} y={19.5} fontFamily={SANS} fontSize={16.5} fill={TEXT}>{SERIES_NAMES[1]}</text>
    </g>
  );
}

function Caption({ c }: { c: (typeof CAPTIONS)[number] }) {
  return (
    <g>
      {c.parts.map((p, i) => (
        <text
          key={i}
          x={p.x}
          y={c.y}
          textLength={p.len}
          lengthAdjust="spacingAndGlyphs"
          fontFamily={p.kind === 'mono' ? MONO : SERIF}
          fontWeight={p.kind === 'bold' ? 'bold' : 'normal'}
          fontSize={p.kind === 'mono' ? 20 : 21}
          fill="#111"
        >
          {p.text}
        </text>
      ))}
    </g>
  );
}

export default function App() {
  return (
    <svg
      width={W}
      height={H}
      viewBox={`0 0 ${W} ${H}`}
      style={{ position: 'absolute', left: 0, top: 0, background: '#fff' }}
    >
      <rect x={0} y={0} width={W} height={H} fill="#fff" />
      {PANELS.map((p) => (
        <PanelView key={p.key} p={p} />
      ))}
      {COLORBARS.map((cb) => (
        <ColorbarView key={cb.key} cb={cb} />
      ))}
      <Legend />
      <text transform="translate(27,160) rotate(-90)" textAnchor="middle" fontFamily={SANS} fontSize={LABEL_FS} fill={TEXT}>
        {Y_LABEL}
      </text>
      <text transform="translate(196,531.5) rotate(-90)" textAnchor="middle" fontFamily={SANS} fontSize={LABEL_FS} fill={TEXT}>
        {Y_LABEL}
      </text>
      <text x={377.5} y={693} textAnchor="middle" fontFamily={SANS} fontSize={LABEL_FS} fill={TEXT}>{X_LABEL}</text>
      <text x={729} y={695} textAnchor="middle" fontFamily={SANS} fontSize={LABEL_FS} fill={TEXT}>{X_LABEL}</text>
      {CAPTIONS.map((c, i) => (
        <Caption key={i} c={c} />
      ))}
    </svg>
  );
}
